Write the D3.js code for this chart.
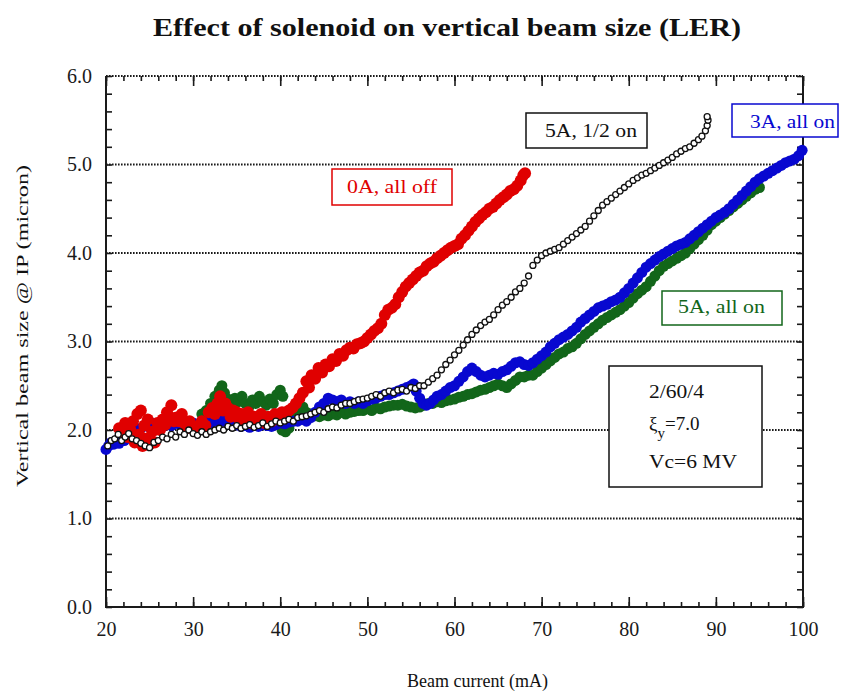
<!DOCTYPE html>
<html>
<head>
<meta charset="utf-8">
<script src="https://cdn.jsdelivr.net/npm/d3@7"></script>
<style>
  body { margin: 0; background: #fff; }
  text { font-family: "Liberation Serif", "Times New Roman", serif; }
</style>
</head>
<body>
<div id="chart"></div>
<script>

// data: [beam current (mA), vertical size (micron)]
var offData = [
  [21.5,2.02],[21.9,1.97],[22.2,2.08],[22.5,1.92],[22.8,2.0],[23.1,2.1],[23.3,1.86],[23.6,2.18],[23.8,1.95],[24.0,2.22],
  [24.2,1.82],[24.4,2.05],[24.6,1.9],[24.8,2.12],[25.0,1.84],[25.3,1.98],[25.6,1.86],[25.9,2.08],[26.2,2.0],[26.5,2.12],
  [26.8,2.06],[27.0,2.2],[27.5,2.28],[27.3,2.15],[27.8,2.1],[28.1,2.14],[28.4,2.1],[28.7,2.18],[29.0,2.08],[29.3,2.02],
  [29.6,2.1],[29.9,2.05],[30.2,2.0],[30.6,2.04],[31.0,2.1],[31.4,2.05],[31.8,2.2],[32.2,2.25],[32.5,2.18],[32.8,2.3],
  [33.1,2.38],[33.4,2.22],[33.7,2.3],[34.0,2.25],[34.3,2.15],[34.6,2.22],[35.0,2.2],[35.3,2.12],[35.6,2.18],[36.0,2.1],
  [36.3,2.2],[36.6,2.08],[37.0,2.15],[37.4,2.1],[37.8,2.18],[38.2,2.08],[38.6,2.15],[39.0,2.1],[39.4,2.18],[39.8,2.12],
  [40.2,2.2],[40.6,2.16],[41.0,2.22],[41.4,2.25],[41.8,2.3],[42.2,2.36],[42.6,2.42],[43.0,2.55],[43.3,2.48],[43.6,2.62],
  [44.0,2.58],[44.4,2.7],[44.8,2.65],[45.2,2.74],[45.6,2.72],[46.0,2.8],[46.4,2.78],[46.8,2.86],[47.2,2.84],[47.6,2.9],
  [48.0,2.93],[48.4,2.92],[48.8,2.97],[49.2,2.98],[49.6,3.0],[50.0,3.04],[50.4,3.08],[50.8,3.12],[51.2,3.15],[51.6,3.2],
  [52.0,3.3],[52.4,3.36],[52.8,3.38],[53.2,3.42],[53.6,3.5],[54.0,3.56],[54.4,3.62],[54.8,3.66],[55.2,3.7],[55.6,3.74],
  [56.0,3.78],[56.4,3.8],[56.8,3.85],[57.2,3.88],[57.6,3.9],[58.0,3.94],[58.4,3.97],[58.8,4.0],[59.2,4.03],[59.6,4.06],
  [60.0,4.08],[60.4,4.1],[60.8,4.16],[61.2,4.2],[61.6,4.25],[62.0,4.3],[62.4,4.35],[62.8,4.39],[63.2,4.43],[63.6,4.46],
  [64.0,4.5],[64.4,4.52],[64.8,4.56],[65.2,4.6],[65.6,4.63],[66.0,4.66],[66.4,4.7],[66.8,4.72],[67.2,4.76],[67.6,4.82],
  [67.9,4.88],[68.1,4.9]
];

var halfOnData = [
  [20.2,1.82],[20.6,1.88],[21.0,1.9],[21.4,1.95],[21.8,1.88],[22.2,1.92],[22.6,1.96],[23.0,1.9],[23.5,1.88],[24.0,1.85],
  [24.5,1.82],[25.0,1.8],[25.5,1.86],[26.0,1.88],[26.5,1.92],[27.0,1.9],[27.5,1.95],[28.0,1.92],[28.5,1.98],[29.0,1.95],
  [29.5,2.0],[30.0,1.96],[30.5,1.94],[31.0,1.98],[31.5,1.95],[32.0,1.98],[32.5,2.0],[33.0,2.02],[33.5,2.0],[34.0,2.04],
  [34.5,2.02],[35.0,2.05],[35.5,2.02],[36.0,2.04],[36.5,2.06],[37.0,2.03],[37.5,2.05],[38.0,2.08],[38.5,2.04],[39.0,2.07],
  [39.5,2.1],[40.0,2.08],[40.5,2.1],[41.0,2.12],[41.5,2.1],[42.0,2.14],[42.5,2.15],[43.0,2.16],[43.5,2.18],[44.0,2.2],
  [44.5,2.22],[45.0,2.2],[45.5,2.24],[46.0,2.26],[46.5,2.25],[47.0,2.28],[47.5,2.3],[48.0,2.3],[48.5,2.32],[49.0,2.34],
  [49.5,2.35],[50.0,2.36],[50.5,2.38],[51.0,2.4],[51.5,2.38],[52.0,2.42],[52.5,2.44],[53.0,2.42],[53.5,2.45],[54.0,2.46],
  [54.5,2.44],[55.0,2.48],[55.5,2.47],[56.0,2.5],[56.5,2.5],[57.0,2.54],[57.5,2.58],[58.0,2.62],[58.5,2.68],[59.0,2.74],
  [59.5,2.79],[60.0,2.85],[60.5,2.9],[61.0,2.96],[61.5,3.02],[62.0,3.08],[62.5,3.13],[63.0,3.18],[63.5,3.22],[64.0,3.25],
  [64.5,3.3],[65.0,3.36],[65.5,3.41],[66.0,3.45],[66.5,3.5],[67.0,3.56],[67.5,3.6],[68.0,3.66],[68.5,3.74],[69.0,3.86],
  [69.5,3.92],[70.0,3.97],[70.5,4.0],[71.0,4.02],[71.5,4.04],[72.0,4.06],[72.5,4.1],[73.0,4.14],[73.5,4.18],[74.0,4.22],
  [74.5,4.26],[75.0,4.3],[75.5,4.36],[76.0,4.42],[76.5,4.48],[77.0,4.54],[77.5,4.58],[78.0,4.62],[78.5,4.66],[79.0,4.7],
  [79.5,4.74],[80.0,4.78],[80.5,4.82],[81.0,4.85],[81.5,4.88],[82.0,4.9],[82.5,4.93],[83.0,4.96],[83.5,4.99],[84.0,5.02],
  [84.5,5.05],[85.0,5.08],[85.5,5.12],[86.0,5.15],[86.5,5.18],[87.0,5.2],[87.5,5.24],[88.0,5.28],[88.4,5.32],[88.8,5.38],
  [89.0,5.44],[89.1,5.5],[89.0,5.54]
];

var threeAData = [
  [20.0,1.78],[20.3,1.82],[20.6,1.86],[20.9,1.84],[21.2,1.88],[21.5,1.85],[21.8,1.9],[22.1,1.88],[22.4,1.92],[22.7,1.95],
  [23.0,1.98],[23.3,1.95],[23.6,2.0],[24.0,2.02],[24.4,2.05],[24.8,2.04],[25.2,2.08],[25.6,2.06],[26.0,2.05],[26.5,2.04],
  [27.0,2.06],[27.5,2.05],[28.0,2.08],[28.5,2.06],[29.0,2.08],[29.5,2.07],[30.0,2.08],[30.5,2.05],[31.0,2.08],[31.5,2.1],
  [32.0,2.08],[32.5,2.1],[33.0,2.12],[33.5,2.1],[34.0,2.08],[34.5,2.05],[35.0,2.06],[35.5,2.04],[36.0,2.05],[36.5,2.03],
  [37.0,2.05],[37.5,2.04],[38.0,2.06],[38.5,2.05],[39.0,2.04],[39.5,2.06],[40.0,2.08],[40.5,2.07],[41.0,2.09],[41.5,2.1],
  [42.0,2.1],[42.5,2.12],[43.0,2.1],[43.5,2.14],[44.0,2.2],[44.5,2.26],[45.0,2.3],[45.5,2.36],[46.0,2.34],[46.5,2.32],
  [47.0,2.34],[47.5,2.3],[48.0,2.32],[48.5,2.3],[49.0,2.32],[49.5,2.3],[50.0,2.33],[50.5,2.35],[51.0,2.36],[51.5,2.38],
  [52.0,2.4],[52.5,2.4],[53.0,2.42],[53.5,2.44],[54.0,2.46],[54.5,2.48],[55.0,2.5],[55.3,2.52],[55.6,2.44],[56.0,2.36],
  [56.4,2.3],[56.8,2.28],[57.2,2.3],[57.6,2.34],[58.0,2.38],[58.5,2.4],[59.0,2.44],[59.5,2.48],[60.0,2.5],[60.5,2.55],
  [61.0,2.6],[61.5,2.66],[62.0,2.7],[62.5,2.66],[63.0,2.62],[63.5,2.6],[64.0,2.62],[64.5,2.64],[65.0,2.63],[65.5,2.66],
  [66.0,2.68],[66.5,2.72],[67.0,2.76],[67.5,2.77],[68.0,2.74],[68.5,2.73],[69.0,2.76],[69.5,2.8],[70.0,2.84],[70.5,2.88],
  [71.0,2.94],[71.5,2.98],[72.0,3.02],[72.5,3.05],[73.0,3.08],[73.5,3.12],[74.0,3.16],[74.5,3.22],[75.0,3.26],[75.5,3.3],
  [76.0,3.34],[76.5,3.38],[77.0,3.4],[77.5,3.42],[78.0,3.45],[78.5,3.47],[79.0,3.5],[79.5,3.55],[80.0,3.6],[80.5,3.66],
  [81.0,3.72],[81.5,3.78],[82.0,3.84],[82.5,3.88],[83.0,3.92],[83.5,3.96],[84.0,3.99],[84.5,4.02],[85.0,4.05],[85.5,4.08],
  [86.0,4.1],[86.5,4.12],[87.0,4.16],[87.5,4.2],[88.0,4.24],[88.5,4.28],[89.0,4.32],[89.5,4.36],[90.0,4.4],[90.5,4.43],
  [91.0,4.46],[91.5,4.5],[92.0,4.55],[92.5,4.6],[93.0,4.65],[93.5,4.7],[94.0,4.75],[94.5,4.8],[95.0,4.84],[95.5,4.87],
  [96.0,4.9],[96.5,4.93],[97.0,4.96],[97.5,4.99],[98.0,5.02],[98.5,5.04],[99.0,5.06],[99.5,5.1],[99.9,5.16]
];

var fiveAData = [
  [31.0,2.18],[31.5,2.22],[32.0,2.3],[32.5,2.38],[33.0,2.45],[33.3,2.5],[33.6,2.42],[34.0,2.35],[34.4,2.3],[34.8,2.36],
  [35.2,2.32],[35.6,2.38],[36.0,2.3],[36.4,2.26],[36.8,2.34],[37.2,2.3],[37.6,2.38],[38.0,2.32],[38.4,2.28],[38.8,2.35],
  [39.2,2.3],[39.6,2.4],[40.0,2.45],[40.3,2.38],[40.0,2.05],[40.2,2.0],[40.6,1.98],[41.0,2.02],[41.4,2.1],[41.8,2.15],
  [42.2,2.22],[42.6,2.26],[43.0,2.2],[43.5,2.18],[44.0,2.16],[44.5,2.15],[45.0,2.17],[45.5,2.16],[46.0,2.18],[46.5,2.17],
  [47.0,2.2],[47.5,2.18],[48.0,2.2],[48.5,2.21],[49.0,2.22],[49.5,2.22],[50.0,2.24],[50.5,2.22],[51.0,2.25],[51.5,2.24],
  [52.0,2.26],[52.5,2.27],[53.0,2.28],[53.5,2.28],[54.0,2.29],[54.5,2.27],[55.0,2.26],[55.5,2.25],[56.0,2.26],[56.5,2.28],
  [57.0,2.3],[57.5,2.3],[58.0,2.32],[58.5,2.31],[59.0,2.33],[59.5,2.34],[60.0,2.35],[60.5,2.37],[61.0,2.38],[61.5,2.4],
  [62.0,2.41],[62.5,2.43],[63.0,2.45],[63.5,2.46],[64.0,2.48],[64.5,2.5],[65.0,2.52],[65.5,2.5],[66.0,2.48],[66.5,2.52],
  [67.0,2.56],[67.5,2.6],[68.0,2.6],[68.5,2.62],[69.0,2.62],[69.5,2.66],[70.0,2.7],[70.5,2.74],[71.0,2.78],[71.5,2.82],
  [72.0,2.86],[72.5,2.88],[73.0,2.92],[73.5,2.94],[74.0,2.98],[74.5,3.03],[75.0,3.08],[75.5,3.12],[76.0,3.16],[76.5,3.2],
  [77.0,3.24],[77.5,3.27],[78.0,3.3],[78.5,3.33],[79.0,3.36],[79.5,3.4],[80.0,3.44],[80.5,3.49],[81.0,3.54],[81.5,3.58],
  [82.0,3.62],[82.5,3.68],[83.0,3.74],[83.5,3.8],[84.0,3.85],[84.5,3.88],[85.0,3.91],[85.5,3.94],[86.0,3.97],[86.5,4.0],
  [87.0,4.05],[87.5,4.1],[88.0,4.15],[88.5,4.2],[89.0,4.26],[89.5,4.32],[90.0,4.36],[90.5,4.4],[91.0,4.44],[91.5,4.48],
  [92.0,4.52],[92.5,4.56],[93.0,4.6],[93.5,4.64],[94.0,4.68],[94.5,4.72],[95.0,4.74]
];

var xMajorTicks = [20, 30, 40, 50, 60, 70, 80, 90, 100];
var yMajorTicks = [0, 1, 2, 3, 4, 5, 6];
var gridLines = [1, 2, 3, 4, 5, 6];
var infoLines = ["2/60/4", "Vc=6 MV"];

var svgWidth = 847;
var svgHeight = 691;

var svg = d3.select("#chart")
  .append("svg")
  .attr("width", svgWidth)
  .attr("height", svgHeight);

var axisColor = "#1a1a1a";

// scales
var xScale = d3.scaleLinear().domain([20, 100]).range([106, 803]);
var yScale = d3.scaleLinear().domain([0, 6]).range([607, 76]);

// dotted grid lines (the top edge of the frame is dotted too)
svg.append("g")
  .selectAll("line")
  .data(gridLines)
  .enter()
  .append("line")
  .attr("x1", xScale(20))
  .attr("x2", xScale(100))
  .attr("y1", d => yScale(d))
  .attr("y2", d => yScale(d))
  .attr("stroke", axisColor)
  .attr("stroke-width", 2)
  .attr("stroke-dasharray", "1.6,1.4");

function styleAxis(g) {
  g.selectAll(".domain").remove();
  g.selectAll("line").attr("stroke", axisColor).attr("stroke-width", 1.6);
  g.selectAll("text")
    .attr("fill", axisColor)
    .attr("font-size", "20px")
    .attr("font-family", "'Liberation Serif', 'Times New Roman', serif");
}

// bottom axis: minor and major ticks point inward
svg.append("g")
  .attr("transform", `translate(0, ${yScale(0)})`)
  .call(d3.axisBottom(xScale).tickValues(d3.range(20, 101, 2)).tickSizeInner(-5).tickSizeOuter(0).tickFormat(""))
  .call(styleAxis);

svg.append("g")
  .attr("transform", `translate(0, ${yScale(0)})`)
  .call(d3.axisBottom(xScale).tickValues(xMajorTicks).tickSizeInner(-10).tickSizeOuter(0).tickPadding(15))
  .call(styleAxis);

// top axis
svg.append("g")
  .attr("transform", `translate(0, ${yScale(6)})`)
  .call(d3.axisTop(xScale).tickValues(d3.range(20, 101, 2)).tickSizeInner(-5).tickSizeOuter(0).tickFormat(""))
  .call(styleAxis);

svg.append("g")
  .attr("transform", `translate(0, ${yScale(6)})`)
  .call(d3.axisTop(xScale).tickValues(xMajorTicks).tickSizeInner(-10).tickSizeOuter(0).tickFormat(""))
  .call(styleAxis);

// left axis
svg.append("g")
  .attr("transform", `translate(${xScale(20)}, 0)`)
  .call(d3.axisLeft(yScale).tickValues(d3.range(0, 6.01, 0.2)).tickSizeInner(-6).tickSizeOuter(0).tickFormat(""))
  .call(styleAxis);

svg.append("g")
  .attr("transform", `translate(${xScale(20)}, 0)`)
  .call(d3.axisLeft(yScale).tickValues(yMajorTicks).tickSizeInner(0).tickSizeOuter(0).tickPadding(14).tickFormat(d3.format(".1f")))
  .call(styleAxis);

// right axis
svg.append("g")
  .attr("transform", `translate(${xScale(100)}, 0)`)
  .call(d3.axisRight(yScale).tickValues(d3.range(0, 6.01, 0.2)).tickSizeInner(-6).tickSizeOuter(0).tickFormat(""))
  .call(styleAxis);

// solid frame lines: left, bottom, right
svg.append("path")
  .attr("d", `M${xScale(20)},${yScale(6)} V${yScale(0)} H${xScale(100)} V${yScale(6)}`)
  .attr("fill", "none")
  .attr("stroke", axisColor)
  .attr("stroke-width", 2);

// series
function drawDots(data, color, r) {
  svg.append("g")
    .selectAll("circle")
    .data(data)
    .enter()
    .append("circle")
    .attr("cx", d => xScale(d[0]))
    .attr("cy", d => yScale(d[1]))
    .attr("r", r)
    .attr("fill", color);
}

drawDots(fiveAData, "#12661a", 5.5);
drawDots(threeAData, "#0808d0", 5.5);
drawDots(offData, "#e00000", 6);

svg.append("g")
  .selectAll("circle")
  .data(halfOnData)
  .enter()
  .append("circle")
  .attr("cx", d => xScale(d[0]))
  .attr("cy", d => yScale(d[1]))
  .attr("r", 3)
  .attr("fill", "#fff")
  .attr("stroke", "#111")
  .attr("stroke-width", 1.3);

// label boxes
function labelBox(x0, y0, x1, y1, color, label, tx, ty, len) {
  svg.append("rect")
    .attr("x", x0)
    .attr("y", y0)
    .attr("width", x1 - x0)
    .attr("height", y1 - y0)
    .attr("fill", "#fff")
    .attr("stroke", color)
    .attr("stroke-width", 1.5);
  svg.append("text")
    .attr("x", tx)
    .attr("y", ty)
    .attr("font-size", "19px")
    .attr("fill", color)
    .attr("textLength", len)
    .attr("lengthAdjust", "spacingAndGlyphs")
    .text(label);
}

labelBox(332, 169, 452, 205, "#e00000", "0A, all off", 347, 193, 90);
labelBox(526, 113, 647, 148, "#111", "5A, 1/2 on", 545, 137, 92);
labelBox(732, 104, 838, 137, "#0808d0", "3A, all on", 750, 128, 85);
labelBox(662, 291, 782, 325, "#12661a", "5A, all on", 678, 313, 87);

// info box
svg.append("rect")
  .attr("x", 609)
  .attr("y", 366)
  .attr("width", 153)
  .attr("height", 121)
  .attr("fill", "#fff")
  .attr("stroke", "#111")
  .attr("stroke-width", 1.5);

svg.append("text")
  .attr("x", 649)
  .attr("y", 398)
  .attr("font-size", "19px")
  .attr("fill", "#111")
  .attr("textLength", 55)
  .attr("lengthAdjust", "spacingAndGlyphs")
  .text(infoLines[0]);

var xi = svg.append("text")
  .attr("x", 649)
  .attr("y", 430)
  .attr("font-size", "19px")
  .attr("fill", "#111");
xi.append("tspan").text("ξ");
xi.append("tspan").attr("dy", 8).attr("font-size", "15px").text("y");
xi.append("tspan").attr("dy", -8).text("=7.0");

svg.append("text")
  .attr("x", 649)
  .attr("y", 468)
  .attr("font-size", "19px")
  .attr("fill", "#111")
  .attr("textLength", 88)
  .attr("lengthAdjust", "spacingAndGlyphs")
  .text(infoLines[1]);

// title and axis labels
svg.append("text")
  .attr("x", 153)
  .attr("y", 36)
  .attr("font-size", "25px")
  .attr("font-weight", "bold")
  .attr("fill", "#111")
  .attr("textLength", 588)
  .attr("lengthAdjust", "spacingAndGlyphs")
  .text("Effect of solenoid on vertical beam size (LER)");

svg.append("text")
  .attr("x", 407)
  .attr("y", 687)
  .attr("font-size", "18px")
  .attr("fill", "#111")
  .attr("textLength", 141)
  .attr("lengthAdjust", "spacingAndGlyphs")
  .text("Beam current (mA)");

svg.append("text")
  .attr("transform", "rotate(-90)")
  .attr("x", -487)
  .attr("y", 28)
  .attr("font-size", "17px")
  .attr("fill", "#111")
  .attr("textLength", 322)
  .attr("lengthAdjust", "spacingAndGlyphs")
  .text("Vertical beam size @ IP (micron)");

</script>
</body>
</html>
